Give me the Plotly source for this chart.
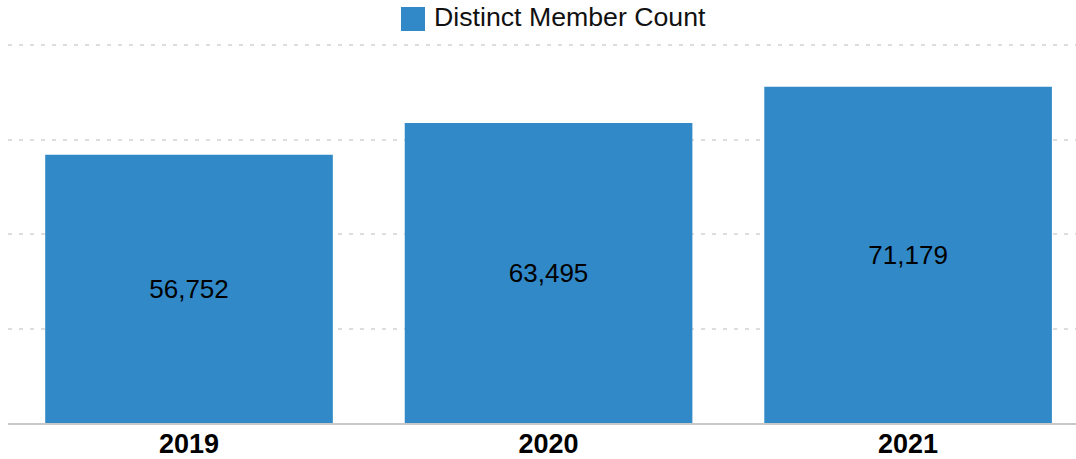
import plotly.graph_objects as go

years = ["2019", "2020", "2021"]
member_counts = [56752, 63495, 71179]
series_name = "Distinct Member Count"
bar_color = "#3289C7"

# body margin is removed in the page, so figure coords == window coords
W, H = 1076, 459
ml, mr, mt, mb = 8, 0, 43, 36
pw = W - ml - mr
ph = H - mt - mb
y_top = 80000 * ph / 378.0

fig = go.Figure()
fig.add_trace(go.Bar(
    x=years, y=member_counts, name=series_name,
    marker=dict(color=bar_color, line=dict(width=0)),
    texttemplate="%{y:,}", textposition="inside", insidetextanchor="middle",
    textfont=dict(family="Liberation Sans, Arial", size=26, color="#000000"),
    showlegend=False, hoverinfo="x+y",
))

def px_x(x):
    return (x - ml) / pw
def px_y(y):
    return (H - mb - y) / ph

fig.add_shape(type="rect", xref="paper", yref="paper",
              x0=px_x(401), x1=px_x(425), y0=px_y(31), y1=px_y(7),
              fillcolor=bar_color, line=dict(width=0))
fig.add_annotation(xref="paper", yref="paper", x=px_x(432), y=px_y(17.5),
                   xanchor="left", yanchor="middle", showarrow=False,
                   text=series_name,
                   font=dict(family="Liberation Sans, Arial", size=26.7, color="#111111"))

fig.update_layout(
    width=W, height=H,
    margin=dict(l=ml, r=mr, t=mt, b=mb, pad=0, autoexpand=False),
    paper_bgcolor="white", plot_bgcolor="white",
    bargap=0.2,
    font=dict(family="Liberation Sans, Arial", color="#000000"),
)
fig.update_xaxes(
    type="category", range=[-0.5035, 2.467], automargin=False,
    showgrid=False, showline=True, linecolor="#C8C8C8", linewidth=1.5,
    ticks="", tickfont=dict(size=27, family="Liberation Sans, Arial", color="#000000", weight="bold"),
    ticklabelstandoff=-4,
)
fig.update_yaxes(
    range=[0, y_top], tickvals=[20000, 40000, 60000, 80000], showticklabels=False,
    automargin=False,
    showgrid=True, gridcolor="#DDDDDD", gridwidth=1.5, griddash="4px,7px",
    zeroline=False, showline=False,
)

fig.write_html(
    "out.html",
    config={"displayModeBar": False},
    post_script="document.body.style.margin='0px'; document.body.style.overflow='hidden';",
)
